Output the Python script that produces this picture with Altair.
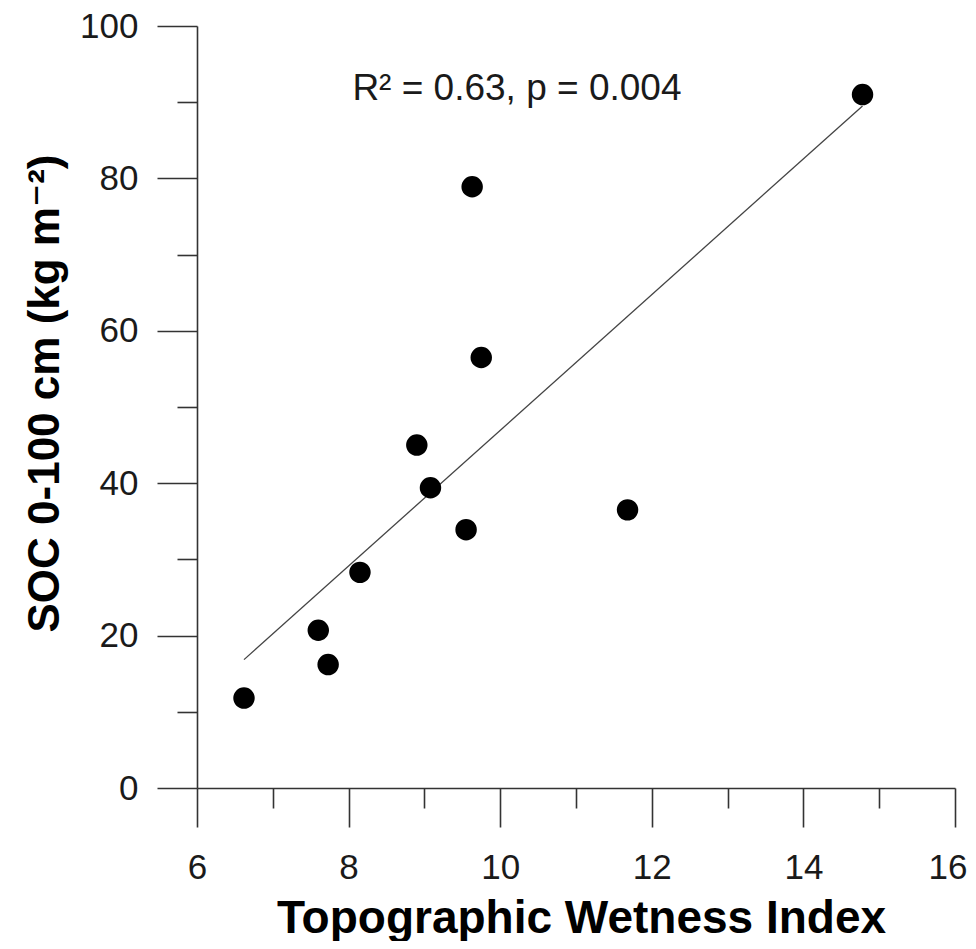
import altair as alt
import pandas as pd

# Data
twi = [6.62, 7.60, 7.73, 8.15, 8.90, 9.08, 9.55, 9.63, 9.75, 11.68, 14.78]
soc = [11.8, 20.7, 16.2, 28.3, 45.0, 39.4, 33.9, 78.9, 56.5, 36.5, 91.0]

x_ticks = [6, 7, 8, 9, 10, 11, 12, 13, 14, 15, 16]
y_ticks = [0, 10, 20, 30, 40, 50, 60, 70, 80, 90, 100]

ann_text = ["R\u00b2 = 0.63, p = 0.004"]
ann_x = [8.05]
ann_y = [90.3]

df = pd.DataFrame({"twi": twi, "soc": soc})
ann = pd.DataFrame({"t": ann_text, "x": ann_x, "y": ann_y})

FONT = "Liberation Sans, Arial, DejaVu Sans"
AXC = "#333333"
TXC = "#1a1a1a"

x_enc = alt.X(
    "twi:Q",
    scale=alt.Scale(domain=[6, 16], nice=False, zero=False),
    axis=alt.Axis(
        values=x_ticks, format="d",
        title="Topographic Wetness Index",
        titleFont=FONT, titleFontSize=46, titleFontWeight="bold", titleColor="#000000",
        titleX=384, titleY=144, titleBaseline="alphabetic", titleAnchor="middle",
        labelFont=FONT, labelFontSize=35, labelColor=TXC, labelPadding=23,
        labelExpr="datum.value % 2 === 0 ? datum.label : ''",
        labelAlign={"condition": {"test": "datum.value === 16", "value": "right"}, "value": "center"},
        labelOffset={"condition": {"test": "datum.value === 16", "value": 12}, "value": 0},
        tickSize={"condition": {"test": "datum.value % 2 === 0", "value": 39}, "value": 20},
        tickColor=AXC, tickWidth=1.6, domainColor=AXC, domainWidth=1.6,
        grid=False, labelFlush=False, labelOverlap=False,
    ),
)
y_enc = alt.Y(
    "soc:Q",
    scale=alt.Scale(domain=[0, 100], nice=False),
    axis=alt.Axis(
        values=y_ticks, format="d",
        title="SOC 0-100 cm (kg m\u207b\u00b2)",
        titleFont=FONT, titleFontSize=44, titleFontWeight="bold", titleColor="#000000",
        titleX=-152, titleY=367, titleAngle=-90, titleBaseline="middle", titleAnchor="middle",
        labelFont=FONT, labelFontSize=35, labelColor=TXC, labelPadding=19,
        labelExpr="datum.value % 20 === 0 ? datum.label : ''",
        tickSize={"condition": {"test": "datum.value % 20 === 0", "value": 40}, "value": 20},
        tickColor=AXC, tickWidth=1.6, domainColor=AXC, domainWidth=1.6,
        grid=False, labelFlush=False, labelOverlap=False,
    ),
)

points = alt.Chart(df).mark_circle(size=460, color="#000000", opacity=1).encode(
    x=x_enc, y=y_enc
)

reg = alt.Chart(df).transform_regression("twi", "soc").mark_line(
    color="#444444", strokeWidth=1.3
).encode(x="twi:Q", y="soc:Q")

text = alt.Chart(ann).mark_text(
    align="left", baseline="alphabetic", font=FONT, fontSize=37, color=TXC
).encode(x="x:Q", y="y:Q", text="t:N")

chart = alt.layer(reg, points, text).properties(
    width=758, height=762,
    autosize=alt.AutoSizeParams(type="none"),
    padding={"left": 189, "top": 18, "right": 13, "bottom": 153},
    background="white",
).configure_view(stroke=None)

chart.save("out.html", embed_options={"renderer": "svg", "actions": False})
